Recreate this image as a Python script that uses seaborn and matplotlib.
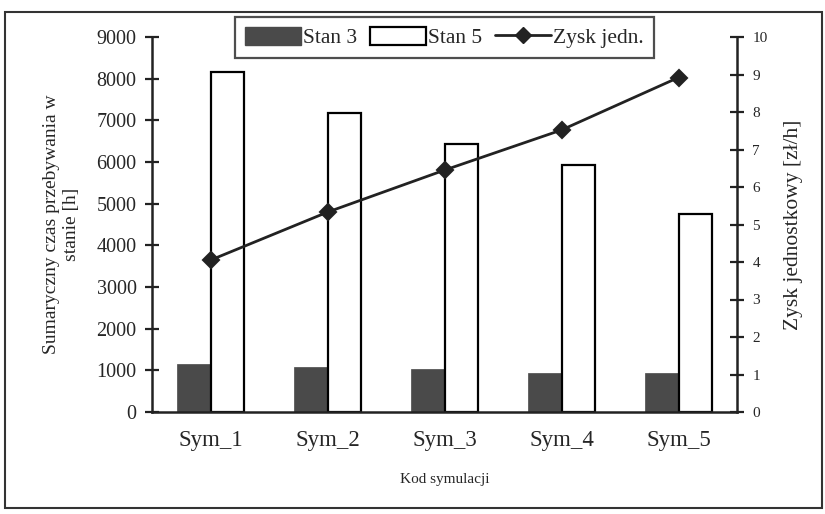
import numpy as np
import pandas as pd
import matplotlib
matplotlib.use("Agg")
import matplotlib.pyplot as plt
from matplotlib.patches import Rectangle, Patch
from matplotlib.lines import Line2D
import seaborn as sns

categories = ["Sym_1", "Sym_2", "Sym_3", "Sym_4", "Sym_5"]
stan3 = [1150, 1080, 1040, 940, 940]
stan5 = [8150, 7180, 6430, 5930, 4760]
zysk = [4.05, 5.33, 6.45, 7.52, 8.92]
series_names = ["Stan 3", "Stan 5"]
line_name = "Zysk jedn."
left_ticks = [0, 1000, 2000, 3000, 4000, 5000, 6000, 7000, 8000, 9000]
right_ticks = [0, 1, 2, 3, 4, 5, 6, 7, 8, 9, 10]

sns.set_style("white")
plt.rcParams["font.family"] = ["Liberation Serif", "DejaVu Serif"]

df = pd.DataFrame({
    "kod": categories * 2,
    "seria": [series_names[0]] * 5 + [series_names[1]] * 5,
    "wartosc": stan3 + stan5,
})
dfz = pd.DataFrame({"kod": categories, "zysk": zysk})

fig = plt.figure(figsize=(8.25, 5.14), dpi=100)
ax = fig.add_axes([152 / 825, 1 - 412 / 514, (737 - 152) / 825, (412 - 37) / 514])

sns.barplot(data=df, x="kod", y="wartosc", hue="seria", order=categories,
            palette={"Stan 3": "#4a4a4a", "Stan 5": "white"},
            width=0.57, dodge=True, gap=0, edgecolor="black", linewidth=1.6,
            legend=False, ax=ax, saturation=1)
for p in ax.patches[:5]:
    p.set_edgecolor("#4a4a4a")
    p.set_linewidth(0.5)

ax.set_xlim(-0.5, 4.5)
ax.set_ylim(0, 9000)
ax.set_yticks(left_ticks)
ax.set_yticklabels([str(t) for t in left_ticks], fontsize=14.5)
ax.set_xticks(range(5))
ax.set_xticklabels(categories, fontsize=16.5)
ax.set_xticks(np.arange(-0.5, 5.0, 1.0), minor=True)
ax.tick_params(axis="x", which="major", length=0, pad=13)
ax.tick_params(axis="x", which="minor", length=9, width=1.6, direction="inout", color="#222222")
ax.tick_params(axis="y", length=10, width=1.6, direction="inout", color="#222222", pad=6)
ax.set_xlabel("Kod symulacji", fontsize=11, labelpad=16)
ax.set_ylabel("Sumaryczny czas przebywania w\nstanie [h]", fontsize=14, labelpad=12)
for s in ["left", "bottom"]:
    ax.spines[s].set_linewidth(1.8)
    ax.spines[s].set_color("#222222")
ax.spines["top"].set_visible(False)
ax.spines["right"].set_visible(False)

ax2 = ax.twinx()
sns.pointplot(data=dfz, x="kod", y="zysk", order=categories, color="#222222",
              markers="D", markersize=8, linewidth=2, ax=ax2)
ax2.set_xlim(-0.5, 4.5)
ax2.set_ylim(0, 10)
ax2.set_yticks(right_ticks)
ax2.set_yticklabels([str(t) for t in right_ticks], fontsize=11)
ax2.tick_params(axis="y", length=10, width=1.6, direction="inout", color="#222222", pad=6)
ax2.set_ylabel("Zysk jednostkowy [zł/h]", fontsize=15.5, labelpad=12)
ax2.spines["right"].set_linewidth(1.8)
ax2.spines["right"].set_color("#222222")
for s in ["top", "left", "bottom"]:
    ax2.spines[s].set_visible(False)

handles = [
    Patch(facecolor="#4a4a4a", edgecolor="#4a4a4a", label=series_names[0]),
    Patch(facecolor="white", edgecolor="black", linewidth=1.6, label=series_names[1]),
    Line2D([0], [0], color="#222222", lw=2, marker="D", markersize=8, label=line_name),
]
leg = fig.legend(handles=handles, loc="upper center", ncol=3,
                 bbox_to_anchor=(444.5 / 825, 1 - 17 / 514), bbox_transform=fig.transFigure,
                 fontsize=15.5, frameon=True, fancybox=False, edgecolor="#222222",
                 handlelength=2.6, handleheight=0.9, handletextpad=0.1, columnspacing=0.6,
                 borderpad=0.45, borderaxespad=0)
leg.get_frame().set_linewidth(1.6)

fig.patches.append(Rectangle((5 / 825, 1 - 508 / 514), 817 / 825, 496 / 514,
                             transform=fig.transFigure, fill=False,
                             edgecolor="#333333", linewidth=1.5))

fig.savefig("out.png", dpi=100)
